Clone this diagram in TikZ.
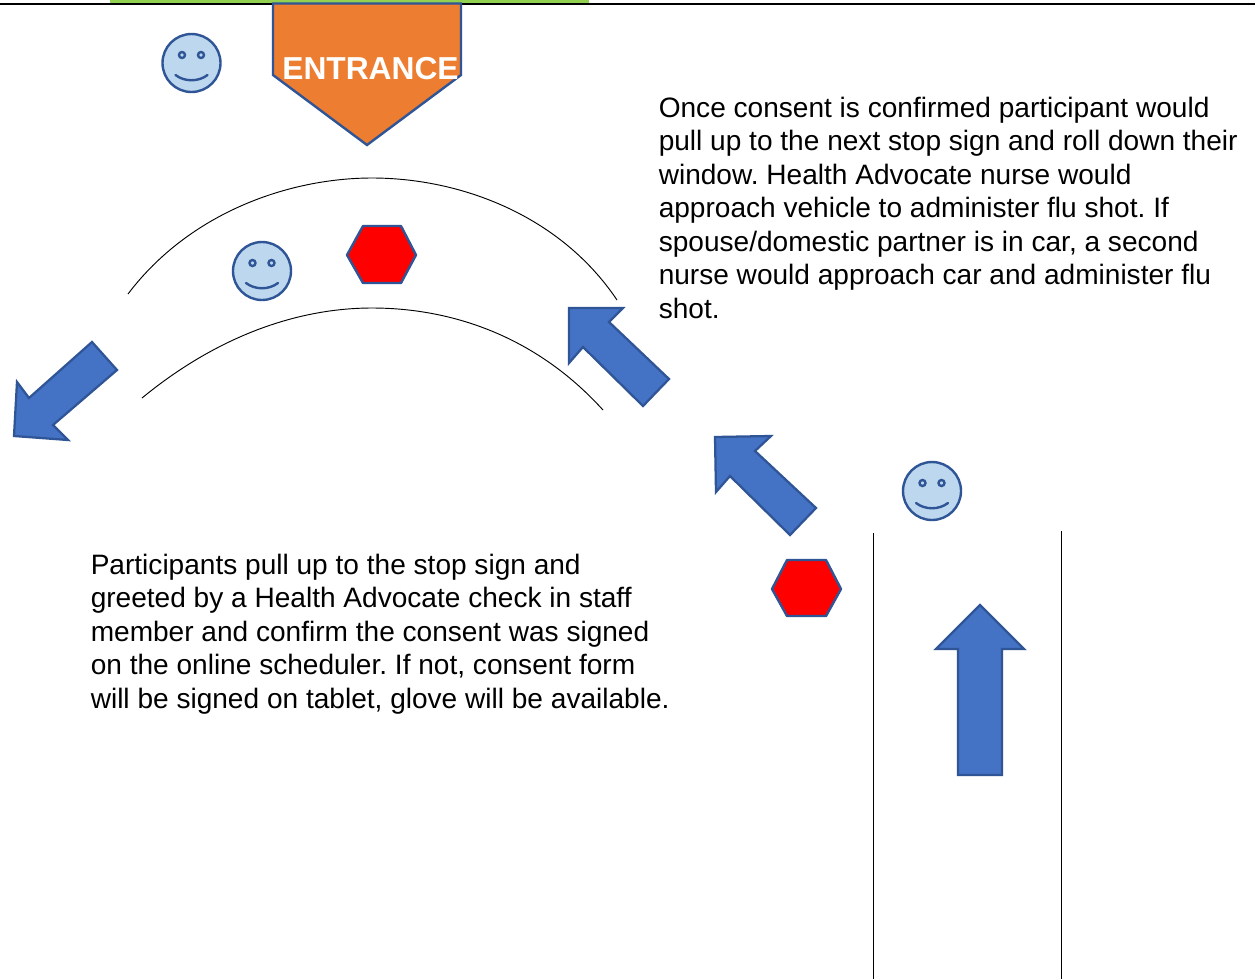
\documentclass[tikz,border=0pt]{standalone}
\usepackage{fontspec}
\setmainfont{Liberation Sans}
\definecolor{shapeblue}{HTML}{4472C4}
\definecolor{edgeblue}{HTML}{2F5597}
\definecolor{faceblue}{HTML}{BDD7EE}
\definecolor{entorange}{HTML}{ED7D31}
\definecolor{topgreen}{HTML}{92D050}
\tikzset{
  arrowshape/.style={fill=shapeblue,draw=edgeblue,line width=1.7pt,line join=miter},
  hexshape/.style={fill=red,draw=edgeblue,line width=1.8pt,line join=round},
  roadline/.style={draw=black,line width=0.7pt},
  bodytext/.style={font=\fontsize{21.05}{25.15}\selectfont\frenchspacing,align=left,anchor=north west,inner sep=0pt,text=black},
  pics/smiley/.style={code={
    \draw[fill=faceblue,draw=edgeblue,line width=1.8pt] (0,0) circle[radius=29*0.75pt];
    \draw[draw=edgeblue,line width=1.8pt] (-9.5,-8) circle[radius=3*0.75pt];
    \draw[draw=edgeblue,line width=1.8pt] (9.5,-8) circle[radius=3*0.75pt];
    \draw[draw=edgeblue,line width=1.8pt,line cap=round] (-16,12) .. controls (-7,19) and (7,19) .. (16,12);
  }}
}
\begin{document}
\begin{tikzpicture}[x=0.75pt,y=-0.75pt]
\useasboundingbox (0,0) rectangle (1255,979);
\fill[white] (0,0) rectangle (1255,979);
\fill[topgreen] (110,0) rectangle (589,3.5);
\draw[black,line width=1pt] (0,4) -- (1255,4);
% entrance
\draw[fill=entorange,draw=edgeblue,line width=1.8pt,line join=miter] (273,3.5) -- (461,3.5) -- (461,75) -- (367,145) -- (273,75) -- cycle;
\node[font=\fontsize{23.8}{28}\selectfont\bfseries,text=white,inner sep=0pt] (entrance) at (370.5,69) {ENTRANCE};
% smileys
\pic at (191.5,63) {smiley};
\pic at (262,271) {smiley};
\pic at (932,491) {smiley};
% arcs
\draw[roadline] (128,294) .. controls (190,212) and (290,178) .. (372,178) .. controls (460,178) and (560,215) .. (617,300);
\draw[roadline] (142,398) .. controls (215,338) and (295,308) .. (372,308) .. controls (450,308) and (535,335) .. (603,410);
% hexagons
\draw[hexshape] (347,255) -- (363,226) -- (401,226) -- (416,255) -- (401,283) -- (363,283) -- cycle;
\draw[hexshape] (772,589) -- (787,560) -- (826,560) -- (841,589) -- (826,616) -- (787,616) -- cycle;
% arrows
\draw[arrowshape] (92,342) -- (117,370) -- (53,425) -- (68,440) -- (14,436) -- (17,382) -- (29,398) -- cycle;
\draw[arrowshape] (569,308) -- (623,308) -- (609,322) -- (669,379) -- (643,406) -- (583,347) -- (569,363) -- cycle;
\draw[arrowshape] (715,437) -- (771,436) -- (755,451) -- (816,508) -- (790,535) -- (730,476) -- (716,492) -- cycle;
\draw[arrowshape] (980,605) -- (1024,649) -- (1002,649) -- (1002,775) -- (958,775) -- (958,649) -- (936,649) -- cycle;
% road
\draw[roadline] (873,533) -- (873,979);
\draw[roadline] (1061,531) -- (1061,979);
% text
\node[bodytext] (consent) at (658.5,96.5) {Once consent is confirmed participant would\\pull up to the next stop sign and roll down their\\window. Health Advocate nurse would\\approach vehicle to administer flu shot. If\\spouse/domestic partner is in car, a second\\nurse would approach car and administer flu\\shot.};
\node[bodytext] (greet) at (90.5,553.7) {Participants pull up to the stop sign and\\greeted by a Health Advocate check in staff\\member and confirm the consent was signed\\on the online scheduler. If not, consent form\\will be signed on tablet, glove will be available.};
\end{tikzpicture}
\end{document}
